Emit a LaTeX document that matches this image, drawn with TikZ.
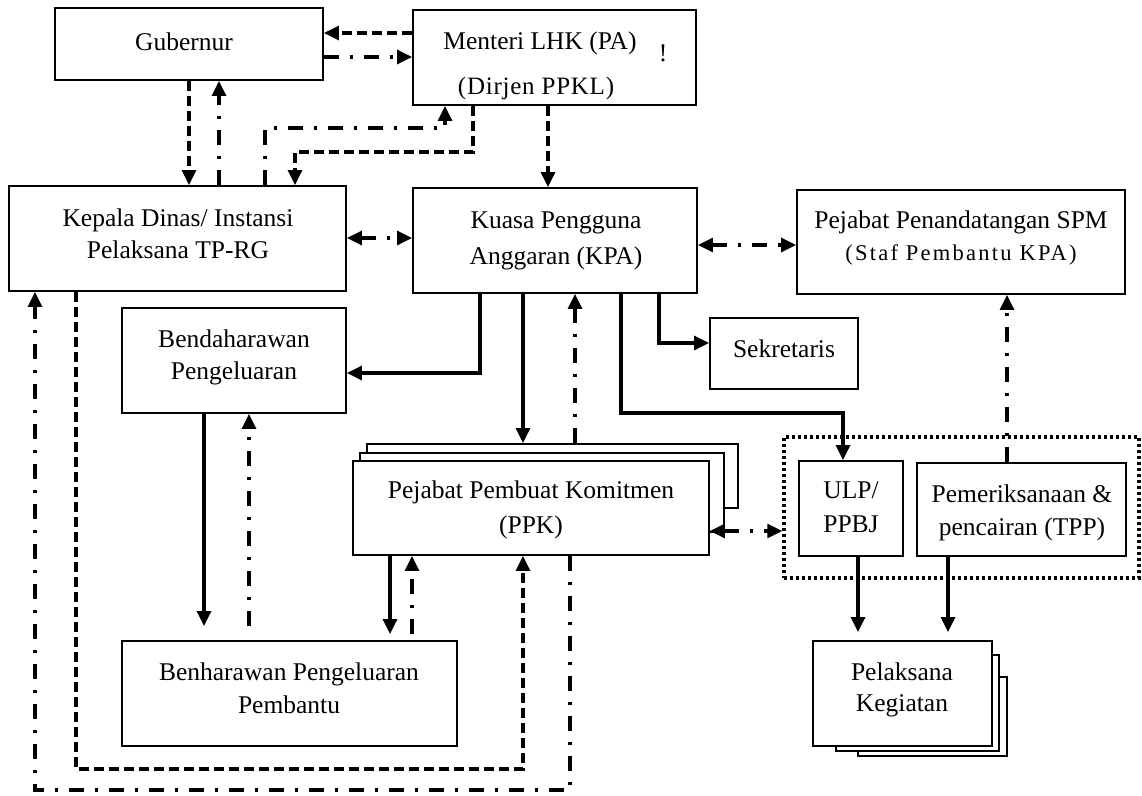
\documentclass[tikz,border=0pt]{standalone}
\usepackage{fontspec}
\setmainfont{Liberation Serif}
\usetikzlibrary{arrows.meta}
\tikzset{
  box/.style={draw, line width=1.9pt, fill=white, inner sep=0pt},
  lbl/.style={font=\fontsize{25.5}{30}\selectfont, inner sep=0pt, anchor=base},
  con/.style={line width=3.2pt},
  arr/.style={-{Triangle[length=15pt,width=14pt]}},
  barr/.style={{Triangle[length=15pt,width=14pt]}-{Triangle[length=15pt,width=14pt]}},
  dsh/.style={dash pattern=on 10pt off 5pt},
  dd/.style={dash pattern=on 15pt off 11pt on 3pt off 11pt},
  grpbox/.style={draw, line width=3.5pt, dash pattern=on 3pt off 3pt, inner sep=0pt}
}
\begin{document}
\begin{tikzpicture}[x=1pt,y=-1pt]
\useasboundingbox (0,0) rectangle (1142,795);
\fill[white] (0,0) rectangle (1142,795);

% boxes
\node[box, minimum width=268pt, minimum height=72pt] (gub) at (189,44) {};
\node[box, minimum width=283pt, minimum height=95pt] (men) at (554.5,57.5) {};
\node[box, minimum width=337pt, minimum height=105pt] (kep) at (177.5,238.5) {};
\node[box, minimum width=284pt, minimum height=105pt] (kpa) at (555,240.5) {};
\node[box, minimum width=328pt, minimum height=104pt] (spm) at (961,242) {};
\node[box, minimum width=224pt, minimum height=105pt] (ben) at (234,360.5) {};
\node[box, minimum width=148pt, minimum height=71pt] (sek) at (784,353.5) {};
\node[box, minimum width=371pt, minimum height=64pt] (ppk3) at (552.5,476) {};
\node[box, minimum width=364pt, minimum height=79pt] (ppk2) at (542,492.5) {};
\node[box, minimum width=356pt, minimum height=94pt] (ppk) at (531,508) {};
\node[grpbox, minimum width=355pt, minimum height=141pt] (grp) at (961.5,507.5) {};
\node[box, minimum width=104pt, minimum height=95pt] (ulp) at (851,508.5) {};
\node[box, minimum width=209pt, minimum height=93pt] (tpp) at (1021.5,509.5) {};
\node[box, minimum width=335pt, minimum height=105pt] (benp) at (289.5,693.5) {};
\node[box, minimum width=149pt, minimum height=79pt] (pel3) at (932.5,716.5) {};
\node[box, minimum width=163pt, minimum height=96pt] (pel2) at (917.5,703) {};
\node[box, minimum width=179pt, minimum height=105pt] (pel) at (902.5,693.5) {};

% texts
\node[lbl] (gubT) at (184,50) {Gubernur};
\node[lbl] (menT1) at (540,49) {Menteri LHK (PA)};
\node[lbl, font=\fontsize{25}{28}\selectfont\addfontfeature{LetterSpace=3}] (menT2) at (536,94) {(Dirjen PPKL)};
\node[lbl] (bang) at (663,61) {!};
\node[lbl] (kepT1) at (178,226) {Kepala Dinas/ Instansi};
\node[lbl] (kepT2) at (178,258) {Pelaksana TP-RG};
\node[lbl] (kpaT1) at (556,228) {Kuasa Pengguna};
\node[lbl] (kpaT2) at (556,264) {Anggaran (KPA)};
\node[lbl] (spmT1) at (961,228) {Pejabat Penandatangan SPM};
\node[lbl, font=\fontsize{22.5}{26}\selectfont\addfontfeature{LetterSpace=10}] (spmT2) at (961,260) {(Staf Pembantu KPA)};
\node[lbl] (benT1) at (234,347) {Bendaharawan};
\node[lbl] (benT2) at (234,379) {Pengeluaran};
\node[lbl] (sekT) at (784,357) {Sekretaris};
\node[lbl] (ppkT1) at (531,498) {Pejabat Pembuat Komitmen};
\node[lbl] (ppkT2) at (531,533) {(PPK)};
\node[lbl] (ulpT1) at (851,498) {ULP/};
\node[lbl] (ulpT2) at (851,532) {PPBJ};
\node[lbl] (tppT1) at (1022,502) {Pemeriksanaan \&};
\node[lbl] (tppT2) at (1022,535) {pencairan (TPP)};
\node[lbl] (benpT1) at (289,680) {Benharawan Pengeluaran};
\node[lbl] (benpT2) at (289,713) {Pembantu};
\node[lbl] (pelT1) at (902,680) {Pelaksana};
\node[lbl] (pelT2) at (902,711) {Kegiatan};

% connectors
\draw[con,dsh,arr] (men.west |- 0,33) -- (gub.east |- 0,33);
\draw[con,dd,arr] (gub.east |- 0,57) -- (men.west |- 0,57);
\draw[con,dsh,arr] (gub.south -| 189,0) -- (kep.north -| 189,0);
\draw[con,dd,arr] (kep.north -| 219,0) -- (gub.south -| 219,0);
\draw[con,dd,arr] (kep.north -| 265,0) -- (265,128) -- (445,128) -- (men.south -| 445,0);
\draw[con,dsh,arr] (men.south -| 473,0) -- (473,152) -- (295,152) -- (kep.north -| 295,0);
\draw[con,dsh,arr] (men.south -| 548,0) -- (kpa.north -| 548,0);
\draw[con,dd,barr] (kep.east |- 0,238) -- (kpa.west |- 0,238);
\draw[con,dd,barr] (kpa.east |- 0,245) -- (spm.west |- 0,245);
\draw[con,arr] (kpa.south -| 480,0) -- (480,373) -- (ben.east |- 0,373);
\draw[con,arr] (kpa.south -| 523,0) -- (ppk3.north -| 523,0);
\draw[con,dd,arr] (ppk3.north -| 575,0) -- (kpa.south -| 575,0);
\draw[con,arr] (kpa.south -| 621,0) -- (621,413) -- (843,413) -- (ulp.north -| 843,0);
\draw[con,arr] (kpa.south -| 659,0) -- (659,343) -- (sek.west |- 0,343);
\draw[con,dd,arr] (tpp.north -| 1007,0) -- (spm.south -| 1007,0);
\draw[con,dd,barr] (ppk.east |- 0,531) -- (grp.west |- 0,531);
\draw[con,arr,shorten >=8pt] (ulp.south -| 858,0) -- (pel.north -| 858,0);
\draw[con,arr,shorten >=8pt] (tpp.south -| 948,0) -- (pel.north -| 948,0);
\draw[con,arr,shorten >=14pt] (ben.south -| 204,0) -- (benp.north -| 204,0);
\draw[con,dd,arr,shorten <=14pt] (benp.north -| 249,0) -- (ben.south -| 249,0);
\draw[con,arr,shorten >=6pt] (ppk.south -| 390,0) -- (benp.north -| 390,0);
\draw[con,dd,arr,shorten <=6pt] (benp.north -| 412,0) -- (ppk.south -| 412,0);
\draw[con,dsh,arr] (kep.south -| 76,0) -- (76,769) -- (523,769) -- (ppk.south -| 523,0);
\draw[con,dd,arr] (ppk.south -| 570,0) -- (570,790) -- (35,790) -- (kep.south -| 35,0);
\end{tikzpicture}
\end{document}
